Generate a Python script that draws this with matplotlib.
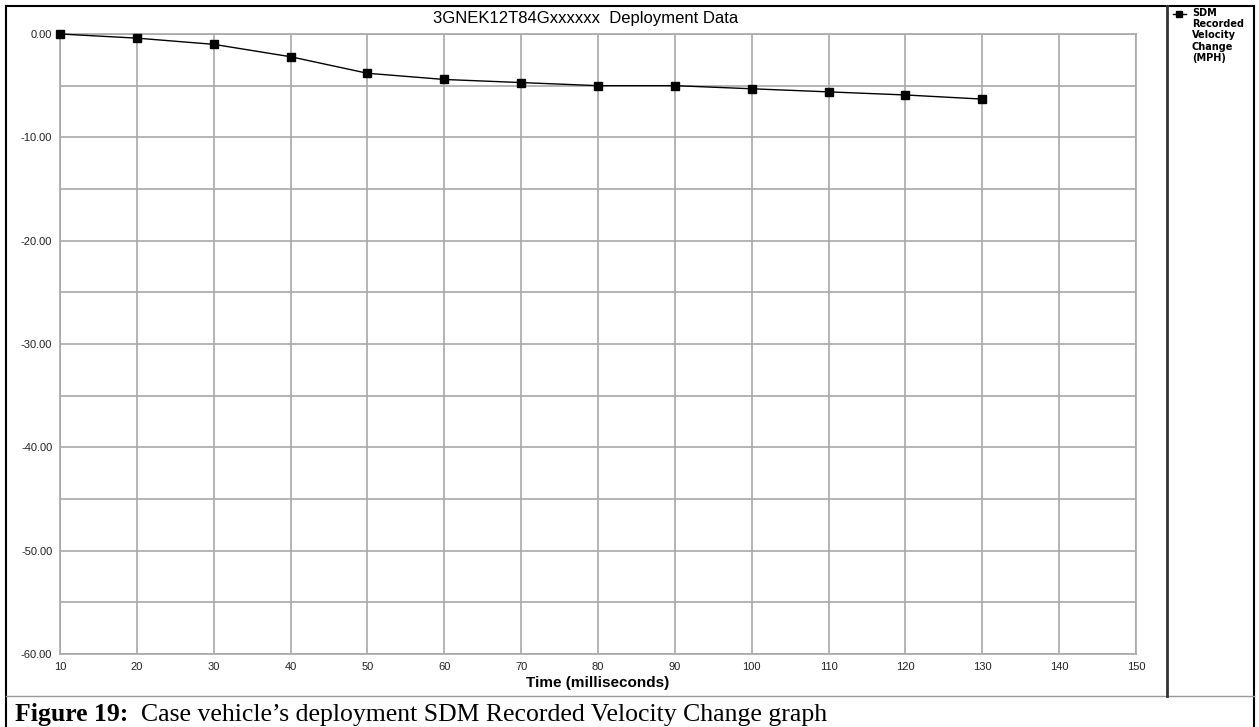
import matplotlib
matplotlib.use("Agg")
import matplotlib.pyplot as plt
from matplotlib.lines import Line2D
from matplotlib.ticker import MultipleLocator, FormatStrFormatter

# Data
time_ms = [10, 20, 30, 40, 50, 60, 70, 80, 90, 100, 110, 120, 130]
velocity_change = [0.0, -0.4, -1.0, -2.2, -3.8, -4.4, -4.7, -5.0, -5.0, -5.3, -5.6, -5.9, -6.3]
title = "3GNEK12T84Gxxxxxx  Deployment Data"
xlabel = "Time (milliseconds)"
legend_label = "SDM\nRecorded\nVelocity\nChange\n(MPH)"
caption_bold = "Figure 19:"
caption_text = "  Case vehicle\u2019s deployment SDM Recorded Velocity Change graph"

W, H = 1259, 727
fig = plt.figure(figsize=(W / 100, H / 100), dpi=100)
fig.patch.set_facecolor("white")

def fx(px):
    return px / W

def fy(py):
    return 1 - py / H

# plot area in pixels
left, right, top, bottom = 60, 1136, 34, 654
ax = fig.add_axes([fx(left), fy(bottom), fx(right - left), (bottom - top) / H])
ax.plot(time_ms, velocity_change, color="black", lw=1.0, marker="s",
        markersize=5.5, markerfacecolor="black", markeredgecolor="black",
        clip_on=False, zorder=3)
ax.set_xlim(10, 150)
ax.set_ylim(-60, 0)
ax.xaxis.set_major_locator(MultipleLocator(10))
ax.yaxis.set_major_locator(MultipleLocator(10))
ax.yaxis.set_minor_locator(MultipleLocator(5))
ax.yaxis.set_major_formatter(FormatStrFormatter("%.2f"))
ax.grid(True, which="both", color="#a8a8a8", lw=1.2)
ax.set_axisbelow(True)
for s in ax.spines.values():
    s.set_color("#a8a8a8")
    s.set_linewidth(1.2)
ax.tick_params(axis="both", which="both", length=0, labelsize=8,
               labelcolor="#222222", labelfontfamily="Liberation Sans")
ax.tick_params(axis="y", pad=5.5)
ax.tick_params(axis="x", pad=6)
ax.set_xlabel(xlabel, fontsize=11, fontweight="bold", family="Liberation Sans",
              labelpad=3)

# title
fig.text(fx(586), fy(19), title, ha="center", va="center", fontsize=12,
         family="Liberation Sans")

# borders
lc = "black"
fig.add_artist(Line2D([fx(6), fx(6)], [fy(6), fy(727)], color=lc, lw=1.5))
fig.add_artist(Line2D([fx(1254), fx(1254)], [fy(6), fy(727)], color=lc, lw=1.5))
fig.add_artist(Line2D([fx(6), fx(1254)], [fy(6), fy(6)], color=lc, lw=1.5))
fig.add_artist(Line2D([fx(6), fx(1254)], [fy(696), fy(696)], color="#999999", lw=1.0))
fig.add_artist(Line2D([fx(1167), fx(1167)], [fy(6), fy(696)], color="#333333", lw=2.0))

# legend
fig.add_artist(Line2D([fx(1173), fx(1179), fx(1186)], [fy(14), fy(14), fy(14)],
                      color="black", lw=1.0, marker="s", markersize=5,
                      markevery=[1], markerfacecolor="black"))
fig.text(fx(1192), fy(8), legend_label, ha="left", va="top", fontsize=7,
         fontweight="bold", family="DejaVu Sans", linespacing=1.15)

# caption
t = fig.text(fx(15), fy(721), caption_bold, ha="left", va="baseline",
             fontsize=18.5, fontweight="bold", family="Liberation Serif")
fig.canvas.draw()
bb = t.get_window_extent()
fig.text(bb.x1 / W, fy(721), caption_text, ha="left", va="baseline",
         fontsize=18.5, family="Liberation Serif")

fig.savefig("out.png", dpi=100, facecolor="white")
